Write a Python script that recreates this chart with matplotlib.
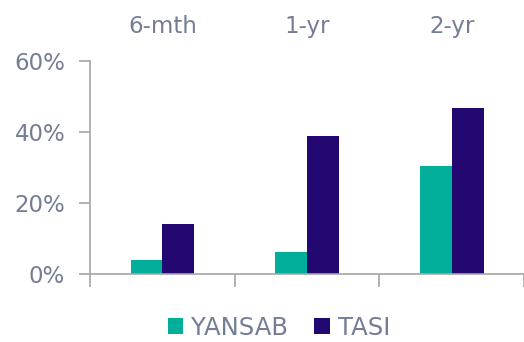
import numpy as np
from matplotlib import pyplot as plt
from matplotlib.ticker import PercentFormatter

##Données

periodes = ['6-mth', '1-yr', '2-yr']
yansab = [3.7, 6.0, 30.3]  # en %
tasi = [13.9, 38.7, 46.7]

##Style

plt.rcParams['font.family'] = ['DejaVu Sans']
gris_texte = '#737D94'
gris_axe = '#A6A6A6'
vert = '#00AE9A'
violet = '#230871'

fig = plt.figure(figsize=(5.24, 3.42), dpi=100)
ax = fig.add_axes([0.172, 0.200, 0.828, 0.623])

x = np.arange(len(periodes))
w = 0.22
ax.bar(x - w/2, yansab, w, color=vert, label='YANSAB')
ax.bar(x + w/2, tasi, w, color=violet, label='TASI')

ax.set_ylim(0, 60)
ax.set_xlim(-0.5, 2.5)
ax.set_yticks([0, 20, 40, 60])
ax.yaxis.set_major_formatter(PercentFormatter(decimals=0))

# étiquettes des catégories en haut, traits de séparation en bas
ax.set_xticks(x, periodes)
ax.set_xticks([-0.5, 0.5, 1.5, 2.5], minor=True)
ax.tick_params(axis='x', which='major', bottom=False, top=False, labelbottom=False, labeltop=True,
               pad=13, labelsize=16.5, labelcolor=gris_texte)
ax.tick_params(axis='x', which='minor', bottom=True, length=9, width=1.2, color=gris_axe)
ax.tick_params(axis='y', length=8, width=1.2, color=gris_axe, labelsize=16.5, labelcolor=gris_texte, pad=10)

for s in ['top', 'right']:
    ax.spines[s].set_visible(False)
for s in ['left', 'bottom']:
    ax.spines[s].set_color(gris_axe)
    ax.spines[s].set_linewidth(1.2)

fig.legend(loc='lower center', bbox_to_anchor=(0.532, -0.057), ncol=2, frameon=False,
           fontsize=17.5, labelcolor=gris_texte, handlelength=0.65, handleheight=0.65,
           handletextpad=0.3, columnspacing=1.1)

plt.savefig('out.png', dpi=100)
